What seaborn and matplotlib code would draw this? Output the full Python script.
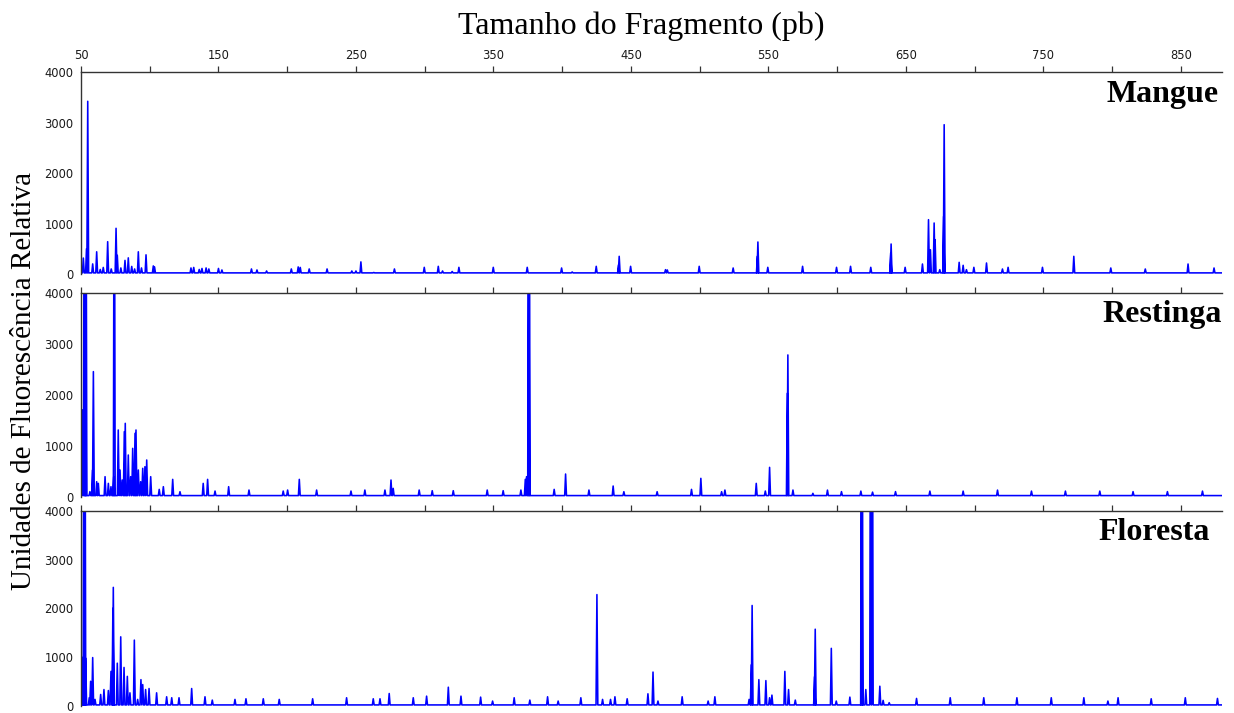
import numpy as np
import pandas as pd
import matplotlib
matplotlib.use("Agg")
import matplotlib.pyplot as plt
from matplotlib.ticker import MultipleLocator, FixedLocator
import seaborn as sns

# ---------------- data (peak positions in bp, heights in RFU) ----------------
panel_names = ["Mangue", "Restinga", "Floresta"]

mangue_pos = [51.7, 54.0, 54.9, 58.5, 61.4, 64.0, 66.2, 69.4, 72.0, 75.5, 76.4, 79.0, 82.0, 84.4,
              86.9, 89.0, 91.7, 94.0, 97.3, 102.6, 103.5, 130.0, 132.0, 136.0, 138.0, 141.0, 143.0,
              150.0, 152.5, 174.0, 178.0, 185.0, 203.0, 208.0, 209.5, 216.0, 229.0, 247.0, 250.0,
              253.6, 263.0, 278.0, 299.7, 309.9, 313.0, 320.0, 324.9, 349.9, 374.6, 399.6, 407.3,
              424.8, 441.0, 441.5, 449.8, 475.2, 476.5, 499.7, 524.4, 542.0, 542.4, 549.6, 574.9,
              599.6, 609.8, 624.5, 639.0, 639.3, 649.5, 662.1, 666.5, 667.9, 670.6, 671.3, 674.7,
              677.5, 677.9, 688.8, 691.7, 694.1, 699.5, 708.7, 720.3, 724.4, 749.4, 772.2, 799.1,
              824.2, 855.3, 874.2]
mangue_h = [316, 500, 3420, 200, 440, 90, 130, 640, 100, 905, 370, 120, 270, 320,
            150, 100, 440, 120, 380, 160, 140, 120, 130, 90, 110, 120, 100,
            110, 80, 100, 80, 60, 100, 140, 130, 100, 100, 60, 60,
            240, 30, 100, 132, 152, 60, 50, 132, 132, 132, 119, 40,
            152, 180, 350, 152, 86, 80, 152, 119, 350, 634, 132, 152,
            132, 152, 132, 416, 594, 132, 198, 1076, 480, 1010, 680, 86,
            1140, 2957, 231, 172, 86, 132, 218, 99, 132, 132, 350, 119,
            99, 198, 119]

restinga_pos = [49.3, 50.2, 51.2, 52.4, 53.2, 53.6, 56.5, 58.4, 59.0, 61.4, 62.6, 67.5, 69.9,
                71.8, 73.8, 74.2, 77.1, 78.4, 80.0, 81.5, 82.2, 84.4, 86.1, 87.6, 89.3, 90.0,
                91.7, 93.4, 94.9, 96.5, 97.8, 100.7, 106.9, 109.9, 116.7, 122.0, 138.9, 142.1,
                147.5, 157.4, 172.2, 197.1, 200.3, 208.8, 221.4, 246.4, 256.5, 271.1, 275.5,
                277.1, 296.0, 305.5, 320.8, 345.5, 357.1, 370.0, 373.2, 374.1, 375.6, 376.0,
                394.2, 402.5, 419.5, 437.1, 444.9, 469.1, 494.1, 500.9, 516.0, 518.4, 541.2,
                547.8, 550.9, 563.8, 564.2, 567.9, 582.4, 593.0, 603.2, 617.3, 625.8, 642.5,
                667.5, 691.7, 716.7, 741.4, 766.1, 791.1, 815.3, 840.3, 865.8]
restinga_h = [262, 620, 1706, 8000, 9000, 8000, 100, 525, 2460, 295, 262, 394, 262,
              197, 394, 9000, 1312, 525, 328, 1279, 1443, 820, 394, 951, 1246, 1312,
              525, 295, 558, 590, 722, 394, 144, 197, 341, 98, 262, 341,
              111, 197, 131, 111, 131, 341, 131, 111, 131, 131, 328,
              164, 131, 118, 118, 131, 118, 131, 341, 394, 9000, 9000,
              144, 446, 131, 210, 98, 98, 144, 361, 98, 131, 262,
              111, 577, 2034, 2788, 131, 66, 130, 100, 110, 90, 100,
              110, 110, 130, 110, 110, 110, 100, 100, 110]

floresta_pos = [49.3, 50.5, 51.6, 52.2, 52.8, 53.4, 56.0, 57.0, 58.5, 60.2, 64.3, 66.7, 69.9,
                71.8, 73.2, 73.5, 76.4, 78.9, 81.3, 83.7, 85.6, 88.8, 91.2, 93.6, 94.9, 97.0,
                99.5, 105.0, 112.3, 116.0, 121.3, 130.5, 140.2, 145.5, 162.0, 170.0, 182.6,
                194.2, 218.5, 243.2, 262.6, 267.5, 274.2, 291.7, 301.4, 317.2, 326.4, 340.7,
                349.4, 365.1, 376.5, 389.4, 397.1, 413.6, 425.3, 429.4, 435.2, 438.4, 447.3,
                462.4, 466.1, 469.7, 487.3, 506.2, 511.1, 536.0, 537.6, 538.2, 543.1, 548.2,
                550.9, 552.6, 562.0, 564.7, 569.6, 583.6, 584.1, 595.8, 599.4, 609.3, 617.8,
                618.2, 620.9, 624.4, 625.6, 631.1, 633.5, 637.9, 657.8, 682.3, 706.7, 730.8,
                755.8, 779.5, 797.0, 804.4, 828.5, 853.3, 876.7]
floresta_h = [709, 945, 1000, 9000, 9000, 979, 169, 506, 992, 135, 236, 337, 317,
              709, 2000, 2430, 877, 1417, 790, 607, 270, 1350, 135, 540, 439, 337,
              358, 270, 189, 169, 169, 358, 189, 121, 135, 148, 148,
              135, 148, 169, 148, 148, 256, 169, 202, 385, 202, 182,
              101, 169, 121, 189, 101, 169, 2282, 135, 135, 189, 148,
              250, 695, 101, 189, 101, 189, 135, 844, 2059, 540, 520,
              169, 223, 709, 337, 121, 600, 1573, 1181, 101, 182, 9000,
              9000, 337, 9000, 9000, 405, 115, 68, 155, 169, 169, 169,
              169, 169, 101, 169, 148, 169, 155]

x_major_ticks = [50, 150, 250, 350, 450, 550, 650, 750, 850]
y_major_ticks = [0, 1000, 2000, 3000, 4000]
x_range = (50, 880)
y_range = (0, 4000)
baseline = 22

# ---------------- helpers ----------------
def trace_frame(pos, h, half_width=0.65):
    order = np.argsort(pos)
    xs = [x_range[0]]
    ys = [baseline]
    for i in order:
        p, v = pos[i], h[i]
        xs += [p - half_width, p, p + half_width]
        ys += [baseline, v, baseline]
    xs.append(x_range[1])
    ys.append(baseline)
    return pd.DataFrame({"pb": xs, "rfu": ys})

# ---------------- figure ----------------
sns.set_style("white")
plt.rcParams["font.family"] = ["DejaVu Sans"]

fig = plt.figure(figsize=(12.34, 7.13), dpi=100)
W, H = 1234, 713
left_px, right_px = 81, 1222
rects_px = [(72, 274), (293.3, 496.7), (510.7, 706.0)]

datasets = [(mangue_pos, mangue_h), (restinga_pos, restinga_h), (floresta_pos, floresta_h)]
label_y = [0.853, 0.860, 0.850]
label_x = [0.9974, 1.0, 0.989]

spine_col = "#333333"
tick_col = "#1a1a1a"

for k, ((top, bot), (pos, h)) in enumerate(zip(rects_px, datasets)):
    ax = fig.add_axes([left_px / W, (H - bot) / H, (right_px - left_px) / W, (bot - top) / H])
    df = trace_frame(pos, h)
    sns.lineplot(data=df, x="pb", y="rfu", ax=ax, sort=False, estimator=None,
                 color="#0000FF", linewidth=1.15)
    ax.set_xlim(*x_range)
    ax.set_ylim(*y_range)
    ax.set_xlabel("")
    ax.set_ylabel("")
    for s in ["right", "bottom"]:
        ax.spines[s].set_visible(False)
    for s in ["left", "top"]:
        ax.spines[s].set_visible(True)
        ax.spines[s].set_color(spine_col)
        ax.spines[s].set_linewidth(1.0)
    ax.xaxis.set_ticks_position("top")
    ax.xaxis.set_major_locator(FixedLocator(x_major_ticks))
    ax.xaxis.set_minor_locator(FixedLocator([t + 50 for t in x_major_ticks if t + 50 < x_range[1]]))
    ax.yaxis.set_major_locator(FixedLocator(y_major_ticks))
    ax.yaxis.set_minor_locator(MultipleLocator(500))
    ax.tick_params(axis="x", which="both", direction="out", length=4.5, width=0.9,
                   color=spine_col, top=True, bottom=False,
                   labeltop=(k == 0), labelbottom=False, labelsize=8.3, labelcolor=tick_col, pad=3)
    ax.tick_params(axis="y", which="major", direction="out", length=4, width=0.9,
                   color=spine_col, labelsize=8.3, labelcolor=tick_col, pad=1.5)
    ax.tick_params(axis="y", which="minor", direction="out", length=2.5, width=0.9,
                   color=spine_col)
    ax.grid(False)
    ax.set_facecolor("white")
    ax.text(label_x[k], label_y[k], panel_names[k], transform=ax.transAxes,
            ha="right", va="baseline", fontsize=23, fontweight="bold",
            family="Liberation Serif", color="black")

fig.text(641 / W, 1 - 34.3 / H, "Tamanho do Fragmento (pb)", ha="center", va="baseline",
         fontsize=23, family="Liberation Serif", color="black")
fig.text(24 / W, 1 - 381 / H, "Unidades de Fluorescência Relativa", ha="center", va="center",
         rotation=90, fontsize=21, family="Liberation Serif", color="black")

fig.savefig("out.png", dpi=100, facecolor="white")
